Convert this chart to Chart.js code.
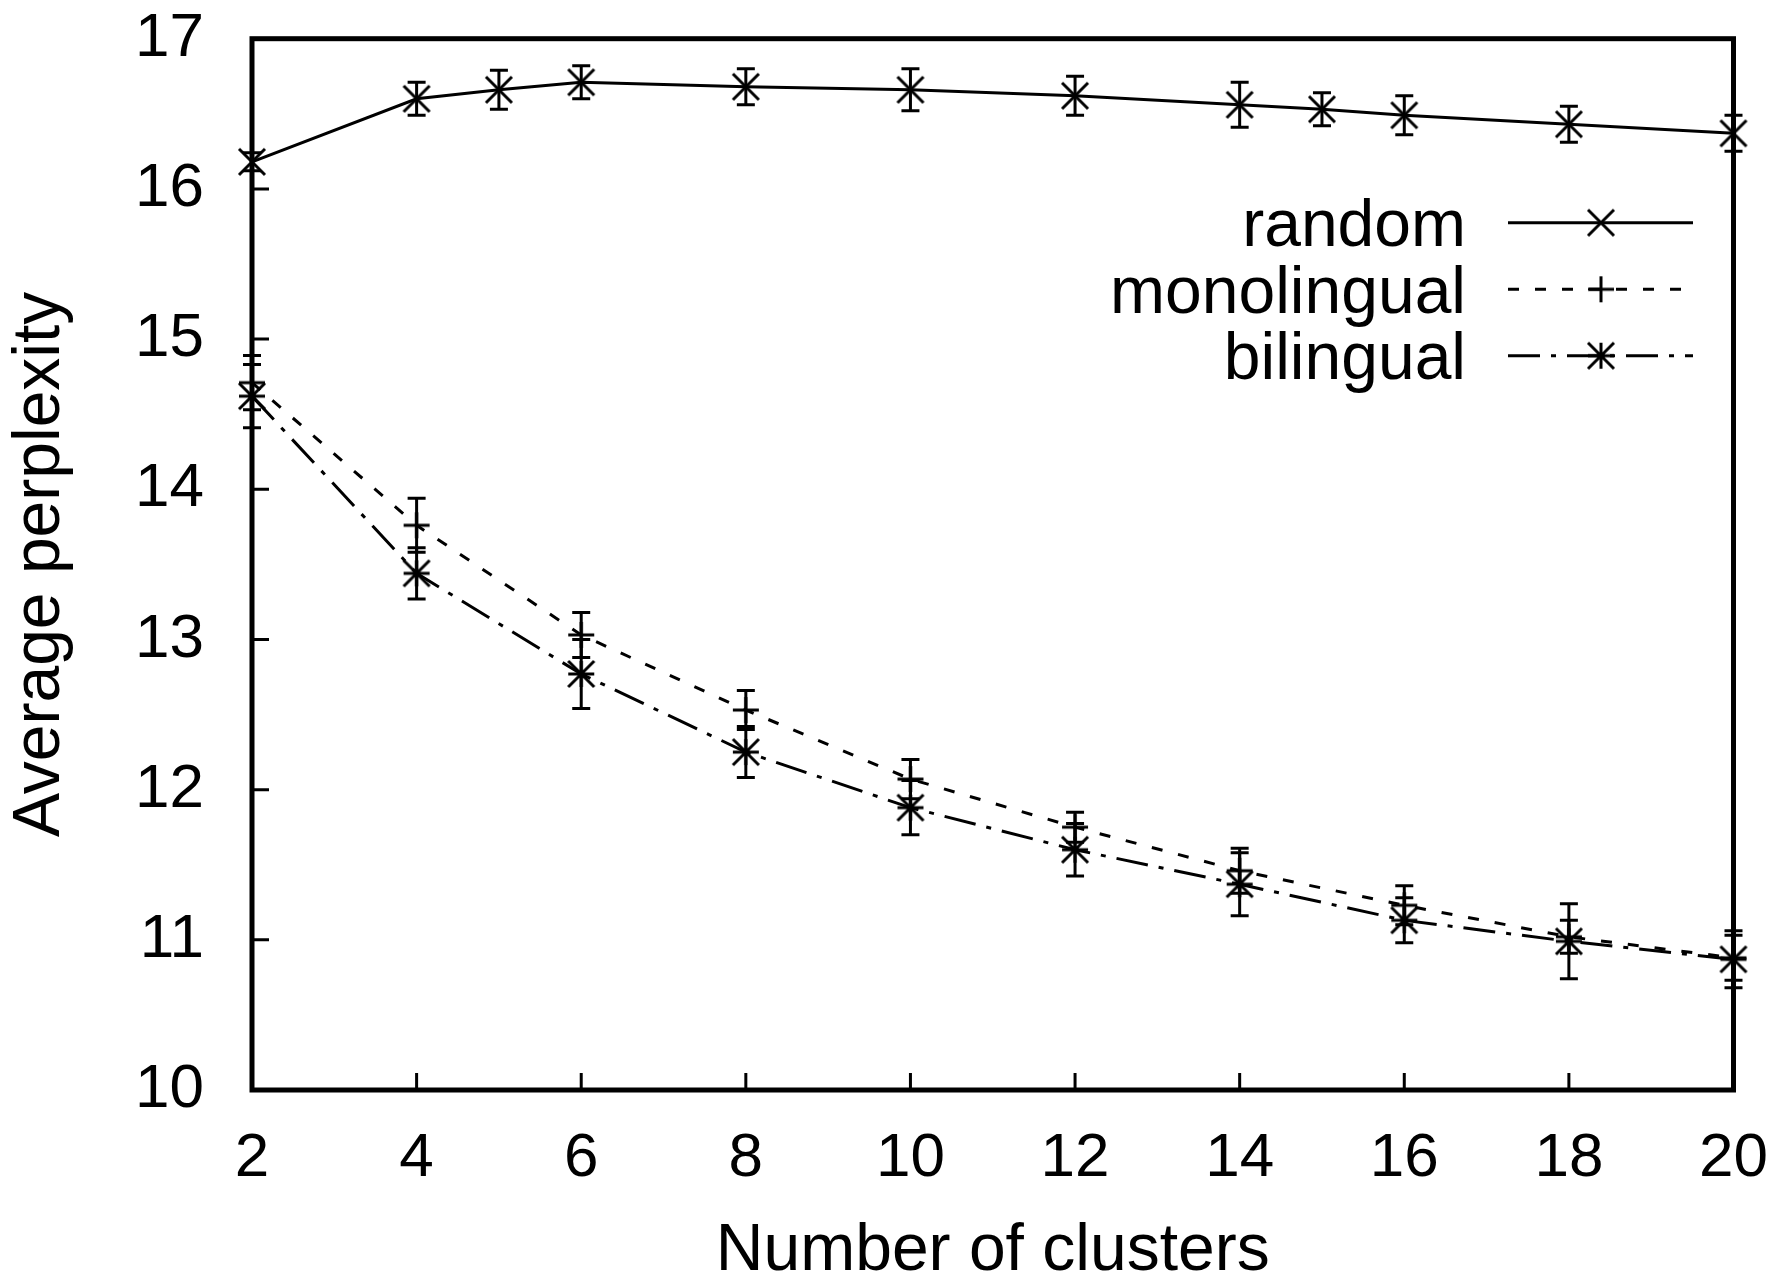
<!DOCTYPE html>
<html>
<head>
<meta charset="utf-8">
<script src="https://cdn.jsdelivr.net/npm/chart.js@4.4.0/dist/chart.umd.min.js"></script>
<style>
  html, body { margin: 0; padding: 0; background: #fff; }
  #wrap { width: 1784px; height: 1286px; }
</style>
</head>
<body>
<div id="wrap"><canvas id="perplexityChart" width="1784" height="1286"></canvas></div>
<script>
const FONT = "'Liberation Sans', Arial, Helvetica, sans-serif";

// random clustering was run at a few more cluster counts
const clustersRandom = [2, 4, 5, 6, 8, 10, 12, 14, 15, 16, 18, 20];
const randomPerplexity = [16.18, 16.60, 16.66, 16.71, 16.68, 16.66, 16.62, 16.56, 16.53, 16.49, 16.43, 16.37];
const randomErr = [0.06, 0.11, 0.13, 0.11, 0.12, 0.14, 0.13, 0.15, 0.11, 0.13, 0.12, 0.12];

const clusters = [2, 4, 6, 8, 10, 12, 14, 16, 18, 20];
const monoPerplexity = [14.71, 13.76, 13.03, 12.53, 12.07, 11.75, 11.46, 11.23, 11.02, 10.88];
const monoErr = [0.18, 0.18, 0.15, 0.13, 0.13, 0.10, 0.15, 0.13, 0.11, 0.15];
const biPerplexity = [14.62, 13.44, 12.77, 12.25, 11.88, 11.60, 11.37, 11.13, 10.99, 10.87];
const biErr = [0.21, 0.17, 0.23, 0.17, 0.18, 0.175, 0.21, 0.15, 0.25, 0.19];

const seriesLabels = ["random", "monolingual", "bilingual"];
const errors = [randomErr, monoErr, biErr];

// gnuplot style markers: x, + and *
function makeMarker(kind) {
  const c = document.createElement("canvas");
  c.width = 32;
  c.height = 32;
  const g = c.getContext("2d");
  const m = 16, h = 13;
  g.strokeStyle = "#000";
  g.lineWidth = 3;
  g.beginPath();
  if (kind === "x" || kind === "*") {
    g.moveTo(m - h, m - h); g.lineTo(m + h, m + h);
    g.moveTo(m - h, m + h); g.lineTo(m + h, m - h);
  }
  if (kind === "+" || kind === "*") {
    g.moveTo(m - h, m); g.lineTo(m + h, m);
    g.moveTo(m, m - h); g.lineTo(m, m + h);
  }
  g.stroke();
  return c;
}

const markers = [makeMarker("x"), makeMarker("+"), makeMarker("*")];
const dashes = [[], [11, 16], [32, 11, 5, 11]];

const toPoints = (xs, ys) => xs.map((x, i) => ({ x: x, y: ys[i] }));

function lineSet(label, points, idx) {
  return {
    label: label,
    data: points,
    borderColor: "#000",
    borderWidth: 3,
    borderDash: dashes[idx],
    pointStyle: markers[idx],
    pointRadius: 13,
    pointHoverRadius: 13,
    tension: 0,
    fill: false,
    clip: false
  };
}

const whiteBg = {
  id: "whiteBg",
  beforeDraw(chart) {
    const ctx = chart.ctx;
    ctx.save();
    ctx.fillStyle = "#fff";
    ctx.fillRect(0, 0, chart.width, chart.height);
    ctx.restore();
  }
};

// box, inward ticks, error bars and the in-plot key
const gnuplotLook = {
  id: "gnuplotLook",
  afterDatasetsDraw(chart) {
    const ctx = chart.ctx;
    const xs = chart.scales.x, ys = chart.scales.y;
    ctx.save();
    ctx.strokeStyle = "#000";
    ctx.lineWidth = 3;
    ctx.setLineDash([]);
    chart.data.datasets.forEach((ds, i) => {
      ds.data.forEach((p, j) => {
        const e = errors[i][j];
        const px = xs.getPixelForValue(p.x);
        const top = ys.getPixelForValue(p.y + e);
        const bot = ys.getPixelForValue(p.y - e);
        ctx.beginPath();
        ctx.moveTo(px, top); ctx.lineTo(px, bot);
        ctx.moveTo(px - 9, top); ctx.lineTo(px + 9, top);
        ctx.moveTo(px - 9, bot); ctx.lineTo(px + 9, bot);
        ctx.stroke();
      });
    });
    ctx.restore();
  },
  afterDraw(chart) {
    const ctx = chart.ctx;
    const a = chart.chartArea;
    const xs = chart.scales.x, ys = chart.scales.y;
    ctx.save();
    ctx.strokeStyle = "#000";
    ctx.setLineDash([]);

    ctx.lineWidth = 3;
    ctx.beginPath();
    ys.ticks.forEach(t => {
      const py = ys.getPixelForValue(t.value);
      ctx.moveTo(a.left, py); ctx.lineTo(a.left + 17, py);
    });
    xs.ticks.forEach(t => {
      const px = xs.getPixelForValue(t.value);
      ctx.moveTo(px, a.bottom); ctx.lineTo(px, a.bottom - 17);
    });
    ctx.stroke();

    ctx.lineWidth = 5;
    ctx.strokeRect(a.left, a.top, a.right - a.left, a.bottom - a.top);

    // key
    const rows = [222.7, 289.3, 355.7];
    ctx.font = "66px " + FONT;
    ctx.fillStyle = "#000";
    ctx.textAlign = "right";
    ctx.textBaseline = "alphabetic";
    chart.data.datasets.forEach((ds, i) => {
      const y = rows[i];
      ctx.fillText(ds.label, 1466, y + 23.5);
      ctx.lineWidth = 3;
      ctx.setLineDash(dashes[i]);
      ctx.beginPath();
      ctx.moveTo(1508, y); ctx.lineTo(1693, y);
      ctx.stroke();
      ctx.setLineDash([]);
      ctx.drawImage(markers[i], 1601 - 16, y - 16);
    });
    ctx.restore();
  }
};

new Chart(document.getElementById("perplexityChart"), {
  type: "line",
  data: {
    datasets: [
      lineSet(seriesLabels[0], toPoints(clustersRandom, randomPerplexity), 0),
      lineSet(seriesLabels[1], toPoints(clusters, monoPerplexity), 1),
      lineSet(seriesLabels[2], toPoints(clusters, biPerplexity), 2)
    ]
  },
  options: {
    responsive: false,
    animation: false,
    events: [],
    layout: { padding: { top: 38.7, right: 50.5, left: 0, bottom: 0 } },
    plugins: {
      legend: { display: false },
      tooltip: { enabled: false }
    },
    scales: {
      x: {
        type: "linear",
        min: 2,
        max: 20,
        grid: { display: false },
        border: { display: false },
        ticks: { stepSize: 2, color: "#000", padding: 24, font: { size: 62, family: FONT } },
        title: {
          display: true,
          text: "Number of clusters",
          color: "#000",
          padding: 0,
          font: { size: 66, family: FONT, lineHeight: 1.05 }
        },
        afterFit: s => {
          s.height = 196;
          s.paddingLeft = 0;
          s.paddingRight = 0;
        }
      },
      y: {
        type: "linear",
        min: 10,
        max: 17,
        grid: { display: false },
        border: { display: false },
        ticks: { stepSize: 1, color: "#000", padding: 40, font: { size: 62, family: FONT } },
        title: {
          display: true,
          text: "Average perplexity",
          color: "#000",
          padding: { top: 1, bottom: 0 },
          font: { size: 66, family: FONT, lineHeight: 1.2 }
        },
        afterFit: s => {
          s.width = 252;
          s.paddingTop = 0;
          s.paddingBottom = 0;
        }
      }
    }
  },
  plugins: [whiteBg, gnuplotLook]
});
</script>
</body>
</html>
